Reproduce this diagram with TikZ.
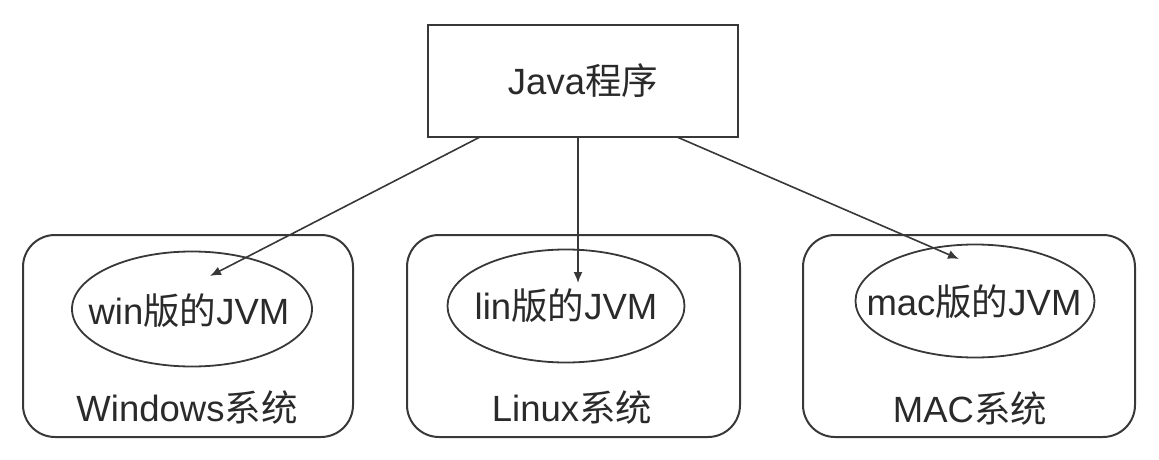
\documentclass[tikz,border=0pt]{standalone}
\usepackage{fontspec}
\setmainfont{Liberation Sans}
\newfontfamily\cjk{Noto Sans CJK SC}
\usetikzlibrary{shapes.geometric,arrows.meta}
\definecolor{ln}{HTML}{383838}
\definecolor{tx}{HTML}{2A2A2A}
\tikzset{
  topbox/.style={draw=ln,line width=2.4pt,minimum width=310pt,minimum height=112pt,inner sep=0pt},
  osbox/.style={draw=ln,line width=2pt,rounded corners=32pt,minimum height=202pt,inner sep=0pt},
  jvm/.style={draw=ln,line width=1.8pt,ellipse,inner sep=0pt},
  lbl/.style={text=tx,font=\fontsize{36.5}{42}\selectfont,inner sep=0pt},
  conn/.style={draw=ln,line width=1.6pt,-{Latex[length=11pt,width=9pt]}}
}
\begin{document}
\begin{tikzpicture}[x=1pt,y=-1pt]
\useasboundingbox (0,0) rectangle (1159,460);
\node[topbox,lbl] (top) at (583,81) {Java{\cjk 程序}};
\node[osbox,minimum width=330pt] (bwin) at (188,336) {};
\node[osbox,minimum width=333pt] (blin) at (573.5,336) {};
\node[osbox,minimum width=332pt] (bmac) at (969,336) {};
\node[jvm,minimum width=240pt,minimum height=115pt] (ewin) at (192,309) {};
\node[jvm,minimum width=237pt,minimum height=113pt] (elin) at (566,306) {};
\node[jvm,minimum width=239pt,minimum height=113pt] (emac) at (975,301) {};
\node[lbl] (twin) at (189,311) {win{\cjk 版的}JVM};
\node[lbl] (tlin) at (566,306) {lin{\cjk 版的}JVM};
\node[lbl] (tmac) at (974,302) {mac{\cjk 版的}JVM};
\node[lbl] (lwin) at (187,407) {Windows{\cjk 系统}};
\node[lbl] (llin) at (572,407) {Linux{\cjk 系统}};
\node[lbl] (lmac) at (970,408) {MAC{\cjk 系统}};
\coordinate (s1) at (480,137);
\coordinate (s2) at (578,137);
\coordinate (s3) at (677,137);
\coordinate (t1) at (210,276);
\coordinate (t2) at (578,283);
\coordinate (t3) at (959,259);
\draw[conn] (s1) -- (t1);
\draw[conn] (s2) -- (t2);
\draw[conn] (s3) -- (t3);
\end{tikzpicture}
\end{document}
